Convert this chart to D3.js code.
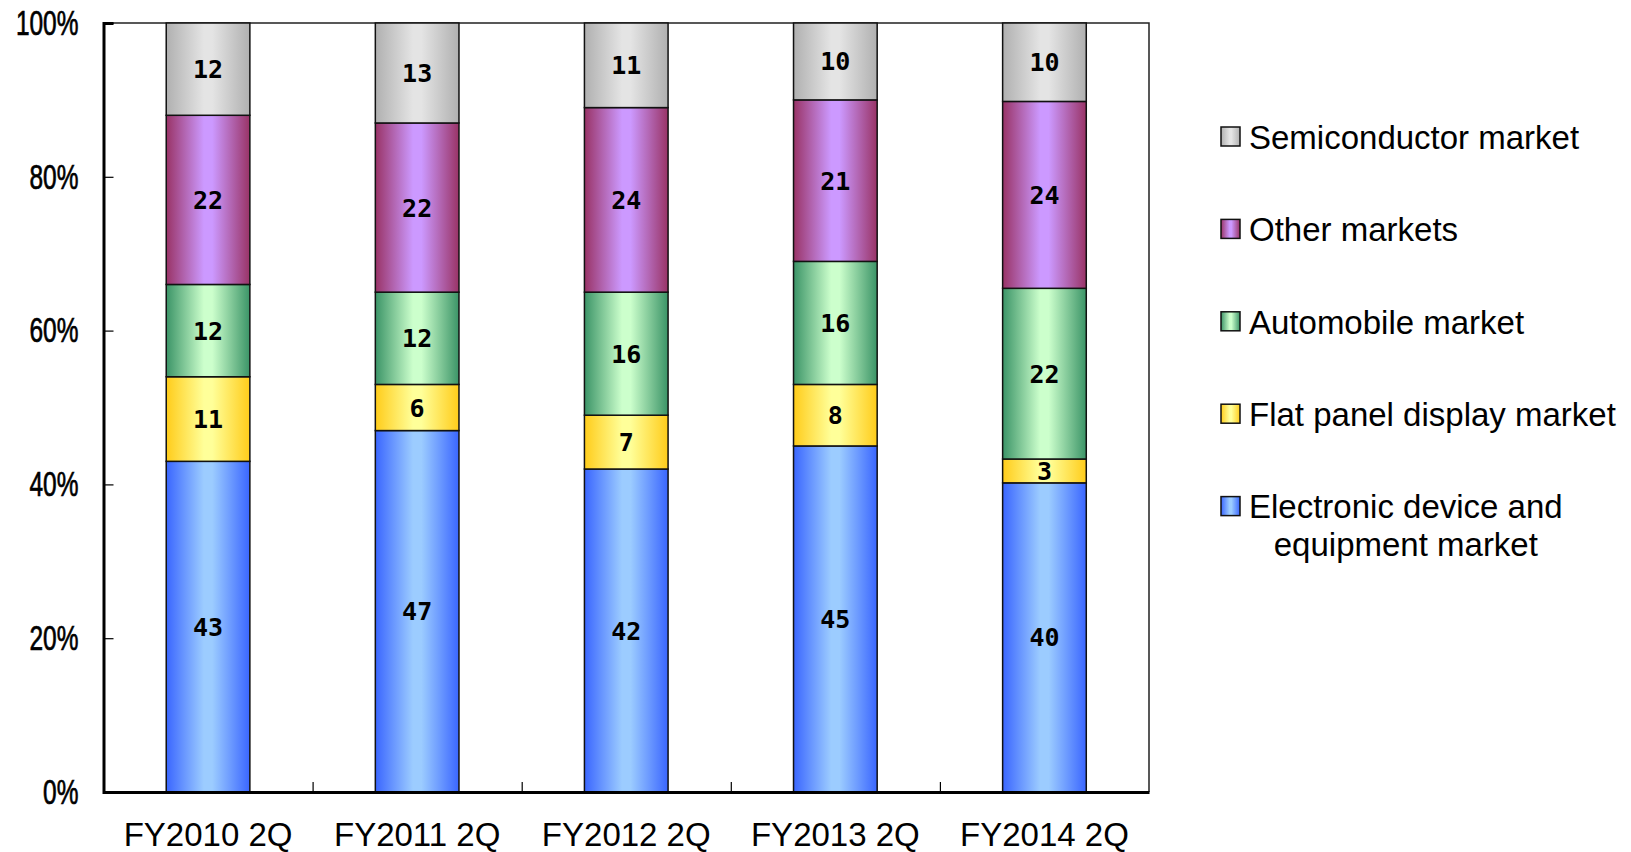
<!DOCTYPE html>
<html>
<head>
<meta charset="utf-8">
<script src="https://cdn.jsdelivr.net/npm/d3@7"></script>
<style>
  body { margin: 0; background: #fff; }
  svg { display: block; }
</style>
</head>
<body>
<svg id="chart" width="1631" height="852"></svg>
<script>
// data (percent share per fiscal half)
var periods = ["FY2010 2Q", "FY2011 2Q", "FY2012 2Q", "FY2013 2Q", "FY2014 2Q"];
var electronic = [43, 47, 42, 45, 40.2];
var flatPanel = [11, 6, 7, 8, 3.1];
var automobile = [12, 12, 16, 16, 22.2];
var other = [22, 22, 24, 21, 24.3];
var semiconductor = [12, 13, 11, 10, 10.2];
var yTicks = [0, 20, 40, 60, 80, 100];

var series = [
  {key: "electronic", name: ["Electronic device and", "equipment market"], values: electronic, edge: "#3a66ff", mid: "#9cccff"},
  {key: "flat", name: ["Flat panel display market"], values: flatPanel, edge: "#ffcc1a", mid: "#ffff99"},
  {key: "auto", name: ["Automobile market"], values: automobile, edge: "#3b9467", mid: "#ccffcc"},
  {key: "other", name: ["Other markets"], values: other, edge: "#993366", mid: "#cc99ff"},
  {key: "semi", name: ["Semiconductor market"], values: semiconductor, edge: "#b0b0b0", mid: "#e4e4e4"}
];

var svg = d3.select("#chart"),
    margin = {top: 23, left: 103.5, right: 482, bottom: 60},
    width = +svg.attr("width") - margin.left - margin.right,
    height = +svg.attr("height") - margin.top - margin.bottom;

var defs = svg.append("defs");
series.forEach(function (s) {
  var grad = defs.append("linearGradient")
      .attr("id", "grad-" + s.key)
      .attr("x1", "0%").attr("x2", "100%").attr("y1", "0%").attr("y2", "0%");
  grad.append("stop").attr("offset", "0%").attr("stop-color", s.edge);
  grad.append("stop").attr("offset", "45%").attr("stop-color", s.mid);
  grad.append("stop").attr("offset", "55%").attr("stop-color", s.mid);
  grad.append("stop").attr("offset", "100%").attr("stop-color", s.edge);
});

var x = d3.scaleBand()
    .domain(periods)
    .range([0, width])
    .paddingInner(0.6)
    .paddingOuter(0.3);

var y = d3.scaleLinear()
    .domain([0, 100])
    .range([height, 0]);

var g = svg.append("g")
    .attr("transform", "translate(" + margin.left + "," + margin.top + ")");

// frame top + right
g.append("path")
    .attr("d", "M0,0H" + width + "V" + height)
    .attr("fill", "none")
    .attr("stroke", "#222")
    .attr("stroke-width", 1.5);

// stacked data
var rows = periods.map(function (p, i) {
  var r = {period: p};
  series.forEach(function (s) { r[s.key] = s.values[i]; });
  return r;
});
var stacked = d3.stack().keys(series.map(function (s) { return s.key; }))(rows);

var layer = g.selectAll("g.layer")
    .data(stacked)
    .enter().append("g")
    .attr("class", "layer")
    .attr("fill", function (d) { return "url(#grad-" + d.key + ")"; });

layer.selectAll("rect")
    .data(function (d) { return d; })
    .enter().append("rect")
    .attr("x", function (d) { return x(d.data.period); })
    .attr("y", function (d) { return y(d[1]); })
    .attr("width", x.bandwidth())
    .attr("height", function (d) { return y(d[0]) - y(d[1]); })
    .attr("stroke", "#111")
    .attr("stroke-width", 1.5);

layer.selectAll("text")
    .data(function (d) { return d; })
    .enter().append("text")
    .attr("x", function (d) { return x(d.data.period) + x.bandwidth() / 2; })
    .attr("y", function (d) { return (y(d[0]) + y(d[1])) / 2; })
    .attr("dy", "0.36em")
    .attr("text-anchor", "middle")
    .attr("fill", "#000")
    .style("font-family", "'DejaVu Sans Mono', monospace")
    .style("font-weight", "bold")
    .style("font-size", "25px")
    .text(function (d) { return d3.format(".0f")(d[1] - d[0]); });

// y axis
var labelScale = 0.7;
var yAxis = g.append("g")
    .attr("class", "y axis")
    .call(d3.axisLeft(y)
        .tickValues(yTicks)
        .tickSize(-10)
        .tickPadding(25)
        .tickFormat(function (d) { return d + "%"; }));
yAxis.select(".domain").attr("stroke", "#000").attr("stroke-width", 3);
yAxis.selectAll(".tick line").attr("stroke", "#000").attr("stroke-width", 1.2);
yAxis.selectAll(".tick text")
    .attr("fill", "#000")
    .attr("stroke", "#000")
    .attr("stroke-width", 0.7)
    .attr("x", -25 / labelScale)
    .attr("transform", "scale(" + labelScale + ",1)")
    .style("font-family", "'Liberation Sans', Arial, sans-serif")
    .style("font-size", "35px");

// x axis: dividers between categories
var xDiv = d3.scaleLinear().domain([0, periods.length]).range([0, width]);
var xTicks = g.append("g")
    .attr("transform", "translate(0," + height + ")")
    .call(d3.axisBottom(xDiv)
        .tickValues(d3.range(1, periods.length))
        .tickSize(-10)
        .tickFormat(""));
xTicks.select(".domain").remove();
xTicks.selectAll(".tick line").attr("stroke", "#000").attr("stroke-width", 1.2);

var xAxis = g.append("g")
    .attr("class", "x axis")
    .attr("transform", "translate(0," + height + ")")
    .call(d3.axisBottom(x).tickSize(0).tickPadding(31));
xAxis.select(".domain").attr("stroke", "#000").attr("stroke-width", 3);
xAxis.selectAll(".tick text")
    .attr("fill", "#000")
    .style("font-family", "'Liberation Sans', Arial, sans-serif")
    .style("font-size", "33px");

// legend (top entry = top of stack)
var legendItems = series.slice().reverse();
var legend = svg.append("g")
    .attr("transform", "translate(1221,137)");

var item = legend.selectAll("g.item")
    .data(legendItems)
    .enter().append("g")
    .attr("class", "item")
    .attr("transform", function (d, i) { return "translate(0," + (i * 92.4) + ")"; });

item.append("rect")
    .attr("x", 0)
    .attr("y", -10)
    .attr("width", 19)
    .attr("height", 19)
    .attr("fill", function (d) { return "url(#grad-" + d.key + ")"; })
    .attr("stroke", "#111")
    .attr("stroke-width", 1.5);

item.each(function (d) {
  var t = d3.select(this).append("text")
      .attr("fill", "#000")
      .style("font-family", "'Liberation Sans', Arial, sans-serif")
      .style("font-size", "33px");
  var first = t.append("tspan")
      .attr("x", 28)
      .attr("dy", "0.36em")
      .text(d.name[0]);
  if (d.name.length > 1) {
    var w = first.node().getComputedTextLength();
    var second = t.append("tspan")
        .attr("dy", "1.15em")
        .text(d.name[1]);
    var w2 = second.node().getComputedTextLength();
    second.attr("x", 28 + (w - w2) / 2);
  }
});
</script>
</body>
</html>
